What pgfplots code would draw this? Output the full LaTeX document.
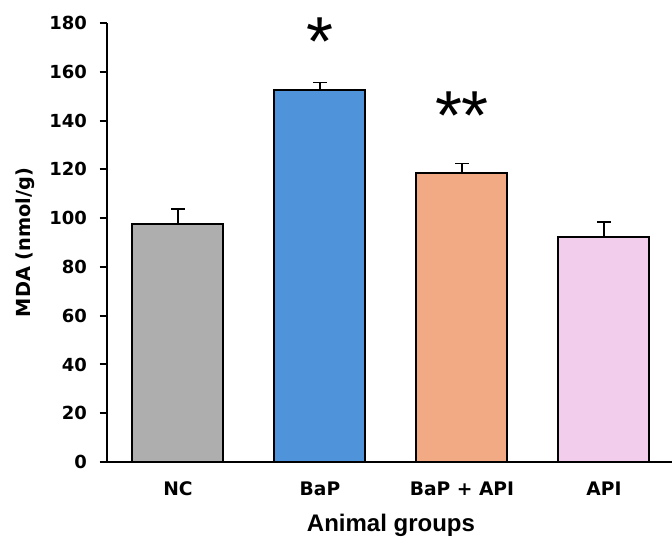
\documentclass[border=0pt]{standalone}
\usepackage{pgfplots}
\pgfplotsset{compat=1.18}
\usepackage{fontspec}
\setmainfont{Liberation Sans}
\newfontfamily\dvs{DejaVu Sans}
\definecolor{cNC}{HTML}{AEAEAE}
\definecolor{cBaP}{HTML}{4F93DA}
\definecolor{cBA}{HTML}{F2AA84}
\definecolor{cAPI}{HTML}{F2CDEC}
\begin{document}
\begin{tikzpicture}
\useasboundingbox (-80.25pt,-56.25pt) rectangle (423.75pt,346.5pt);
\begin{axis}[
  at={(0,0)}, anchor=south west,
  scale only axis, width=426pt, height=329.25pt,
  xmin=-0.5, xmax=3.5, ymin=0, ymax=180,
  axis lines*=left,
  axis line style={line width=1.5pt, black},
  ytick={0,20,...,180},
  xtick={0,1,2,3},
  xticklabels={NC,BaP,BaP + API,API},
  x tick style={draw=none},
  extra x ticks={0.5,1.5,2.5},
  extra x tick labels={},
  extra x tick style={tick style={draw=black, line width=1.5pt}, major tick length=5.5pt, tick align=outside},
  y tick style={line width=1.5pt, black},
  major tick length=5.5pt,
  tick align=outside,
  /pgf/number format/assume math mode=true,
  yticklabel style={font=\dvs\bfseries\fontsize{13.5}{13.5}\selectfont, xshift=-6pt},
  xticklabel style={font=\dvs\bfseries\fontsize{14}{14}\selectfont, yshift=-6pt},
  ylabel={MDA (nmol/g)},
  ylabel style={font=\dvs\bfseries\fontsize{14.5}{14.5}\selectfont, at={(axis description cs:0,0.5)}, anchor=center, yshift=61pt},
  xlabel={Animal groups},
  xlabel style={font=\bfseries\fontsize{18}{18}\selectfont, at={(axis description cs:0.5,0)}, anchor=base, yshift=-51.75pt},
  clip=false,
]
\addplot[ybar, bar width=68.25pt, bar shift=0pt, fill=cNC, draw=black, line width=1.5pt,
  error bars/.cd, y dir=plus, y explicit, error bar style={line width=1.1pt, black},
  error mark options={rotate=90, mark size=4.9pt, line width=1.1pt, black}]
  coordinates {(0,97.5) +- (0,6.3)};
\addplot[ybar, bar width=68.25pt, bar shift=0pt, fill=cBaP, draw=black, line width=1.5pt,
  error bars/.cd, y dir=plus, y explicit, error bar style={line width=1.1pt, black},
  error mark options={rotate=90, mark size=4.9pt, line width=1.1pt, black}]
  coordinates {(1,152.5) +- (0,3.0)};
\addplot[ybar, bar width=68.25pt, bar shift=0pt, fill=cBA, draw=black, line width=1.5pt,
  error bars/.cd, y dir=plus, y explicit, error bar style={line width=1.1pt, black},
  error mark options={rotate=90, mark size=4.9pt, line width=1.1pt, black}]
  coordinates {(2,118.3) +- (0,4.1)};
\addplot[ybar, bar width=68.25pt, bar shift=0pt, fill=cAPI, draw=black, line width=1.5pt,
  error bars/.cd, y dir=plus, y explicit, error bar style={line width=1.1pt, black},
  error mark options={rotate=90, mark size=4.9pt, line width=1.1pt, black}]
  coordinates {(3,92.1) +- (0,6.4)};
\node[font=\fontsize{52}{52}\selectfont, inner sep=0pt] at (axis cs:1,172.5) {*};
\node[font=\fontsize{52}{52}\selectfont, inner sep=0pt] at (axis cs:2,142) {**};
\end{axis}
\end{tikzpicture}
\end{document}
